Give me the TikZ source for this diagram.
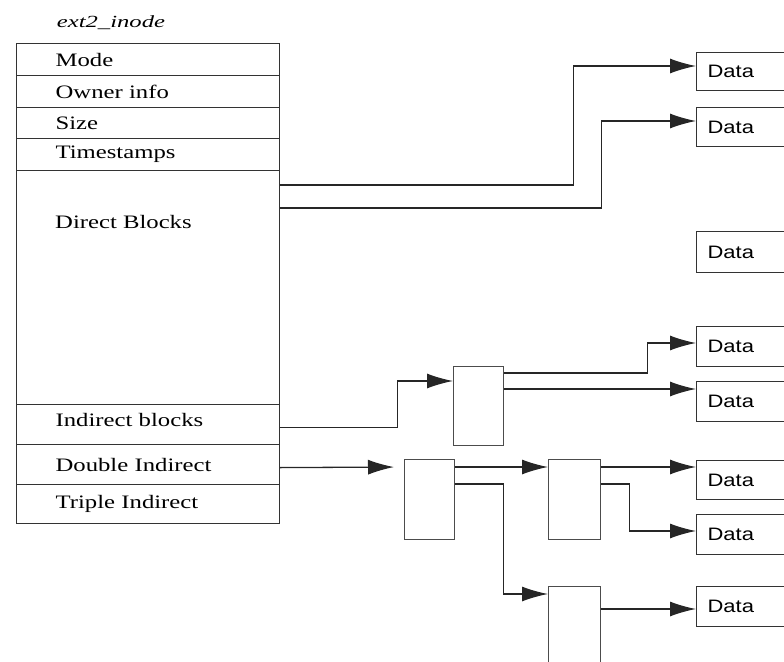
\documentclass[tikz,border=0pt]{standalone}
\usepackage{fontspec}
\setmainfont{Liberation Serif}
\newfontfamily\fieldfont[FakeStretch=1.3]{Liberation Serif}
\newfontfamily\titlefont[FakeStretch=1.45]{Liberation Serif}
\newfontfamily\datafont[FakeStretch=1.22]{Liberation Sans}
\usetikzlibrary{arrows.meta}

\begin{document}
\begin{tikzpicture}[x=1pt, y=-1pt,
        field/.style={rectangle, draw=black!80, line width=1.2pt, anchor=north west, text width=185pt, inner xsep=39pt, inner ysep=0pt, align=left, font=\fieldfont\fontsize{19}{22}\selectfont},
        fieldtext/.style={anchor=west, inner sep=0pt, font=\fieldfont\fontsize{19}{22}\selectfont},
        blk/.style={rectangle, draw=black!70, line width=1.2pt, anchor=north west, minimum width=50pt, minimum height=80pt, inner sep=0pt},
        datablk/.style={rectangle, draw=black!80, line width=1.2pt, anchor=north west, minimum height=39pt, text width=108pt, inner xsep=11pt, inner ysep=0pt, align=left, font=\datafont\fontsize{18}{20}\selectfont},
        arrow/.style={-{Latex[length=26pt, width=15pt]}, line width=1.3pt, black!85}%
    ]
        \useasboundingbox (0,0) rectangle (784,661);
        \clip (0,0) rectangle (784,661);

        \node[font=\titlefont\itshape\fontsize{17}{20}\selectfont] (title) at (111,23) {ext2\_inode};

        % inode fields
        \node[field, minimum height=32pt] (mode) at (16,43) {Mode};
        \node[field, minimum height=32pt] (owner) at (16,75) {Owner info};
        \node[field, minimum height=31pt] (size) at (16,107) {Size};
        \node[field, minimum height=32pt] (stamps) at (16,138) {Timestamps};
        \node[field, minimum height=234pt] (direct) at (16,170) {};
        \node[fieldtext] (directtext) at (55,222) {Direct Blocks};
        \node[field, minimum height=40pt, text depth=9pt] (indirect) at (16,404) {Indirect blocks};
        \node[field, minimum height=40pt] (double) at (16,444) {Double Indirect};
        \node[field, minimum height=39pt] (triple) at (16,484) {Triple Indirect};

        % pointer blocks
        \node[blk, minimum height=79pt] (ind) at (453,366) {};
        \node[blk] (dbl1) at (404,459) {};
        \node[blk, minimum width=52pt] (dbl2) at (548,459) {};
        \node[blk, minimum width=52pt, minimum height=110pt] (dbl3) at (548,586) {};

        % data blocks
        \node[datablk, minimum height=38pt] (d1) at (696,52) {Data};
        \node[datablk] (d2) at (696,107) {Data};
        \node[datablk, minimum height=41pt] (d3) at (696,231) {Data};
        \node[datablk, minimum height=40pt] (d4) at (696,326) {Data};
        \node[datablk, minimum height=40pt] (d5) at (696,381) {Data};
        \node[datablk] (d6) at (696,460) {Data};
        \node[datablk, minimum height=40pt] (d7) at (696,514) {Data};
        \node[datablk, minimum height=40pt] (d8) at (696,586) {Data};

        % direct
        \draw[arrow] ([yshift=-15pt]direct.north east) -- ++(293,0) |- ([yshift=-14pt]d1.north west);
        \draw[arrow] ([yshift=-38pt]direct.north east) -- ++(321,0) |- ([yshift=-14pt]d2.north west);

        % indirect
        \draw[arrow] ([yshift=-3pt]indirect.east) -- ++(117,0) |- ([yshift=-15pt]ind.north west);
        \draw[arrow] ([yshift=-7pt]ind.north east) -- ++(143,0) |- ([yshift=-17pt]d4.north west);
        \draw[arrow] ([yshift=-23pt]ind.north east) -- ([yshift=-8pt]d5.north west);

        % double indirect
        \draw[arrow, shorten >=10pt] ([yshift=-3pt]double.east) -- ([yshift=-8pt]dbl1.north west);
        \draw[arrow] ([yshift=-8pt]dbl1.north east) -- ([yshift=-8pt]dbl2.north west);
        \draw[arrow] ([yshift=-25pt]dbl1.north east) -- ++(48,0) |- ([yshift=-8pt]dbl3.north west);
        \draw[arrow] ([yshift=-8pt]dbl2.north east) -- ([yshift=-7pt]d6.north west);
        \draw[arrow] ([yshift=-25pt]dbl2.north east) -- ++(28,0) |- ([yshift=-17pt]d7.north west);
        \draw[arrow] ([yshift=-23pt]dbl3.north east) -- ([yshift=-23pt]d8.north west);
    \end{tikzpicture}
\end{document}
